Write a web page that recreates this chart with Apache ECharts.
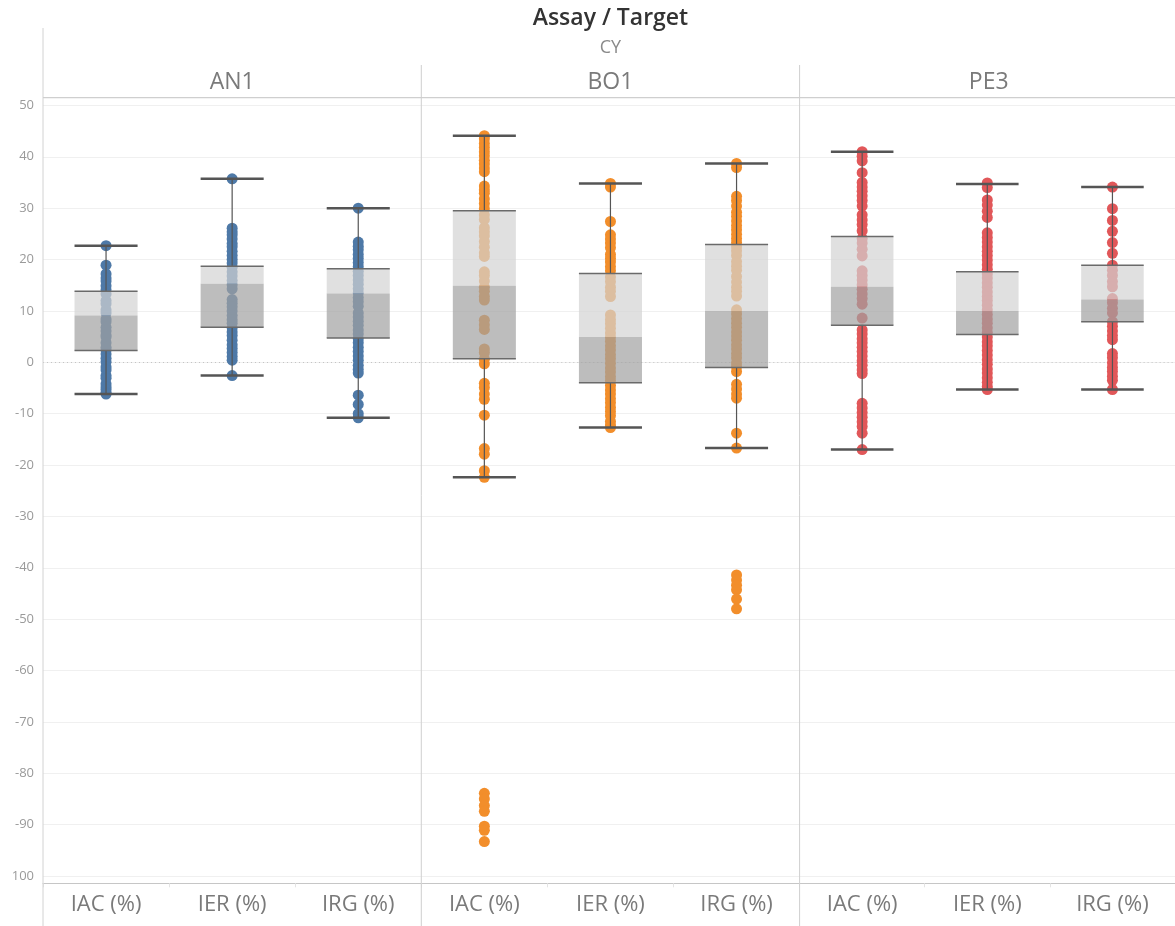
<!DOCTYPE html>
<html>
<head>
<meta charset="utf-8">
<title>Assay / Target</title>
<script src="https://cdn.jsdelivr.net/npm/echarts@6/dist/echarts.min.js"></script>
<style>
  html, body { margin: 0; padding: 0; background: #ffffff; }
  #chart { width: 1175px; height: 926px; }
</style>
</head>
<body>
<div id="chart"></div>
<script>
// ---- data ----
const chartTitle = 'Assay / Target';
const groupLabel = 'CY';
const panels = ['AN1', 'BO1', 'PE3'];
const measures = ['IAC (%)', 'IER (%)', 'IRG (%)'];
const panelColors = ['#4e79a7', '#f28e2b', '#e15759'];

const yTickValues = [50, 40, 30, 20, 10, 0, -10, -20, -30, -40, -50, -60, -70, -80, -90, -100];
const yTickLabels = ['50', '40', '30', '20', '10', '0', '-10', '-20', '-30', '-40', '-50', '-60', '-70', '-80', '-90', '100'];

// individual results per assay / measure
const an1Iac = [22.7, 18.9, 17.2, 16.4, 15.8, 14.9, 14.1, 13.3, 12.0, 11.4, 10.2, 9.6, 8.4, 7.9, 6.8, 6.1, 5.3, 4.9, 3.8, 2.9, 2.4, 1.6, 0.8, 0.1, -0.9, -1.5, -2.6, -3.1, -4.2, -4.8, -5.3, -5.9, -6.2];
const an1Ier = [35.7, 26.1, 25.4, 24.8, 24.0, 23.1, 22.5, 21.6, 20.8, 20.0, 19.3, 18.5, 17.6, 16.8, 15.9, 15.1, 14.3, 12.2, 11.5, 10.8, 10.0, 9.1, 8.3, 7.6, 6.7, 5.9, 5.2, 4.3, 3.4, 2.7, 1.9, 1.1, 0.4, -2.6];
const an1Irg = [30.0, 23.4, 22.6, 21.9, 21.0, 20.2, 19.4, 18.6, 17.7, 16.9, 16.0, 15.2, 14.3, 13.5, 12.6, 11.8, 10.9, 9.6, 8.8, 8.0, 7.2, 6.3, 5.5, 4.6, 3.8, 2.9, 2.1, 1.2, 0.4, -0.6, -1.4, -2.1, -6.4, -8.2, -10.0, -10.8];

const bo1Iac = [44.1, 43.5, 42.6, 41.8, 41.0, 40.2, 39.3, 38.6, 37.8, 37.1, 34.3, 33.6, 32.9, 31.8, 30.9, 29.9, 28.7, 27.8, 26.2, 25.4, 24.6, 23.5, 22.4, 21.3, 20.6, 17.6, 16.9, 15.8, 14.6, 13.8, 12.8, 12.1, 8.2, 7.3, 6.4, 2.6, 1.9, 0.6, -0.3, -4.1, -4.9, -6.2, -7.2, -10.3, -16.8, -17.9, -21.1, -22.4, -83.9, -85.0, -86.3, -87.4, -90.3, -91.1, -93.3];
const bo1Ier = [34.8, 34.1, 27.4, 24.8, 24.0, 23.2, 22.3, 21.0, 20.2, 19.5, 18.6, 17.8, 16.6, 15.7, 14.6, 13.8, 12.8, 9.2, 8.3, 7.5, 6.6, 5.7, 4.9, 4.1, 3.2, 2.4, 1.5, 0.7, -0.2, -1.1, -1.9, -2.8, -3.6, -4.5, -5.4, -6.2, -7.1, -7.9, -8.8, -9.6, -10.4, -11.5, -12.2, -12.7];
const bo1Irg = [38.7, 37.9, 32.3, 31.5, 30.4, 29.2, 28.4, 27.5, 26.6, 25.8, 24.9, 24.1, 23.3, 22.5, 21.7, 20.8, 19.6, 18.7, 17.9, 16.7, 15.6, 14.6, 13.8, 12.9, 10.2, 9.4, 8.5, 7.6, 6.8, 5.9, 5.1, 4.3, 3.4, 2.6, 1.7, 0.9, -0.1, -0.8, -1.8, -4.3, -5.2, -6.2, -7.0, -13.8, -16.7, -41.4, -42.4, -43.4, -44.3, -46.1, -48.0];

const pe3Iac = [41.0, 40.1, 39.2, 36.9, 35.0, 34.1, 33.3, 32.4, 31.5, 30.4, 28.7, 27.7, 26.8, 25.6, 24.1, 23.2, 22.0, 20.7, 17.8, 16.9, 16.0, 15.1, 14.2, 13.3, 12.4, 11.3, 8.6, 6.3, 5.5, 4.6, 3.8, 2.9, 2.1, 1.2, 0.3, -0.6, -1.5, -2.2, -8.0, -8.9, -9.8, -10.7, -11.6, -12.5, -13.8, -17.0];
const pe3Ier = [34.9, 34.0, 31.6, 30.6, 29.4, 28.2, 25.2, 24.3, 23.4, 22.5, 21.6, 20.8, 19.9, 19.0, 18.1, 17.2, 16.4, 15.5, 14.6, 13.7, 12.8, 12.0, 11.1, 10.2, 9.3, 8.4, 7.6, 6.7, 5.8, 4.9, 4.0, 3.2, 2.3, 1.4, 0.5, -0.4, -1.3, -2.1, -3.0, -3.9, -4.7, -5.3];
const pe3Irg = [34.1, 29.9, 27.6, 25.5, 23.3, 21.2, 18.9, 17.9, 16.9, 15.7, 14.7, 12.4, 11.6, 10.5, 9.6, 7.9, 7.0, 6.1, 5.2, 4.4, 1.7, 0.9, -0.1, -1.0, -1.8, -2.7, -3.5, -5.3];

// box statistics per measure: [lower whisker, Q1, median, Q3, upper whisker]
const an1Box = [[-6.2, 2.3, 9.1, 13.8, 22.7], [-2.6, 6.8, 15.3, 18.7, 35.7], [-10.8, 4.7, 13.4, 18.2, 30.0]];
const bo1Box = [[-22.4, 0.7, 14.9, 29.5, 44.1], [-12.7, -4.0, 4.9, 17.3, 34.8], [-16.7, -1.0, 10.0, 22.9, 38.7]];
const pe3Box = [[-17.0, 7.2, 14.7, 24.5, 41.0], [-5.3, 5.4, 10.0, 17.6, 34.7], [-5.3, 7.9, 12.2, 18.9, 34.1]];

const panelPoints = [[an1Iac, an1Ier, an1Irg], [bo1Iac, bo1Ier, bo1Irg], [pe3Iac, pe3Ier, pe3Irg]];
const panelBoxes = [an1Box, bo1Box, pe3Box];

// ---- layout ----
const FONT = '"Open Sans", Lato, "Noto Sans", sans-serif';
const plotLeft = 43;
const panelWidth = 378.3;
const plotTop = 105.4;      // y of the 50 gridline
const plotBottom = 876;     // y of the -100 gridline
const headerLineY = 97.7;
const axisLineY = 883.3;
const W = 1175, H = 926;

const chart = echarts.init(document.getElementById('chart'), null, { renderer: 'canvas', width: W, height: H });

const grids = [], xAxes = [], yAxes = [], series = [];

function renderBox(params, api) {
  const c = api.value(0);
  const lo = api.coord([c, api.value(1)]);
  const q1 = api.coord([c, api.value(2)]);
  const md = api.coord([c, api.value(3)]);
  const q3 = api.coord([c, api.value(4)]);
  const hi = api.coord([c, api.value(5)]);
  const w = api.size([1, 0])[0] * 0.5;
  const cx = q1[0];
  const x0 = cx - w / 2, x1 = cx + w / 2;
  const dark = '#555555';
  return {
    type: 'group',
    children: [
      { type: 'rect', shape: { x: x0, y: q3[1], width: w, height: md[1] - q3[1] },
        style: { fill: 'rgba(211,211,211,0.7)' } },
      { type: 'rect', shape: { x: x0, y: md[1], width: w, height: q1[1] - md[1] },
        style: { fill: 'rgba(161,161,161,0.7)' } },
      { type: 'line', shape: { x1: cx, y1: hi[1], x2: cx, y2: q3[1] }, style: { stroke: dark, lineWidth: 1.2 } },
      { type: 'line', shape: { x1: cx, y1: q1[1], x2: cx, y2: lo[1] }, style: { stroke: dark, lineWidth: 1.2 } },
      { type: 'line', shape: { x1: x0, y1: q3[1], x2: x1, y2: q3[1] }, style: { stroke: '#6a6a6a', lineWidth: 1.5 } },
      { type: 'line', shape: { x1: x0, y1: q1[1], x2: x1, y2: q1[1] }, style: { stroke: '#6a6a6a', lineWidth: 1.5 } },
      { type: 'line', shape: { x1: x0, y1: hi[1], x2: x1, y2: hi[1] }, style: { stroke: dark, lineWidth: 2.5 } },
      { type: 'line', shape: { x1: x0, y1: lo[1], x2: x1, y2: lo[1] }, style: { stroke: dark, lineWidth: 2.5 } }
    ]
  };
}

panels.forEach((name, p) => {
  grids.push({ left: plotLeft + p * panelWidth, width: panelWidth, top: plotTop, height: plotBottom - plotTop, containLabel: false });
  xAxes.push({
    gridIndex: p, type: 'category', data: measures, boundaryGap: true, offset: axisLineY - plotBottom,
    axisLine: { show: true, onZero: false, lineStyle: { color: '#c6c6c6', width: 1 } },
    axisTick: { show: true, length: 4, lineStyle: { color: '#e4e4e4' } },
    axisLabel: { color: '#7a7a7a', fontSize: 22, fontFamily: FONT, margin: 10 },
    splitLine: { show: false }
  });
  yAxes.push({
    gridIndex: p, type: 'value', min: -100, max: 50, interval: 10,
    axisLine: { show: false }, axisTick: { show: false },
    axisLabel: {
      show: p === 0, color: '#9a9a9a', fontSize: 13, fontFamily: FONT, margin: 9,
      formatter: v => { const i = yTickValues.indexOf(v); return i >= 0 ? yTickLabels[i] : ''; }
    },
    splitLine: { show: true, lineStyle: { color: '#f0f0f0', width: 1 } }
  });

  const pts = [];
  panelPoints[p].forEach((vals, m) => vals.forEach(v => pts.push([m, v])));
  series.push({
    type: 'scatter', xAxisIndex: p, yAxisIndex: p, data: pts,
    symbol: 'circle', symbolSize: 11, itemStyle: { color: panelColors[p], opacity: 1 },
    z: 3, silent: true,
    markLine: {
      silent: true, symbol: ['none', 'none'], label: { show: false },
      lineStyle: { color: '#c4c4c4', type: [1, 3], width: 1 },
      data: [{ yAxis: 0 }], z: 1
    }
  });
  series.push({
    type: 'custom', xAxisIndex: p, yAxisIndex: p, renderItem: renderBox, z: 5, silent: true,
    data: panelBoxes[p].map((b, m) => [m, b[0], b[1], b[2], b[3], b[4]]),
    encode: { x: 0, y: [1, 2, 3, 4, 5] }
  });
});

// frame lines and header texts
const panelCenters = panels.map((_, p) => plotLeft + (p + 0.5) * panelWidth);
const midX = plotLeft + 1.5 * panelWidth;
const graphics = [
  { type: 'line', shape: { x1: plotLeft, y1: 28, x2: plotLeft, y2: H }, style: { stroke: '#d2d2d2', lineWidth: 1 }, z: 10 },
  { type: 'line', shape: { x1: plotLeft, y1: headerLineY, x2: W, y2: headerLineY }, style: { stroke: '#cfcfcf', lineWidth: 1.3 }, z: 10 },
  { type: 'text', x: midX, y: 18, style: { text: chartTitle, fill: '#333333', font: '600 23px ' + FONT, textAlign: 'center', textVerticalAlign: 'middle' } },
  { type: 'text', x: midX, y: 48, style: { text: groupLabel, fill: '#8a8a8a', font: '18px ' + FONT, textAlign: 'center', textVerticalAlign: 'middle' } }
];
for (let p = 1; p < panels.length; p++) {
  const x = plotLeft + p * panelWidth;
  graphics.push({ type: 'line', shape: { x1: x, y1: 65, x2: x, y2: H }, style: { stroke: '#cfcfcf', lineWidth: 1 }, z: 10 });
}
panels.forEach((name, p) => {
  graphics.push({ type: 'text', x: panelCenters[p], y: 82, style: { text: name, fill: '#7a7a7a', font: '23px ' + FONT, textAlign: 'center', textVerticalAlign: 'middle' } });
});

chart.setOption({
  animation: false,
  backgroundColor: '#ffffff',
  grid: grids,
  xAxis: xAxes,
  yAxis: yAxes,
  series: series,
  graphic: graphics
});
</script>
</body>
</html>
